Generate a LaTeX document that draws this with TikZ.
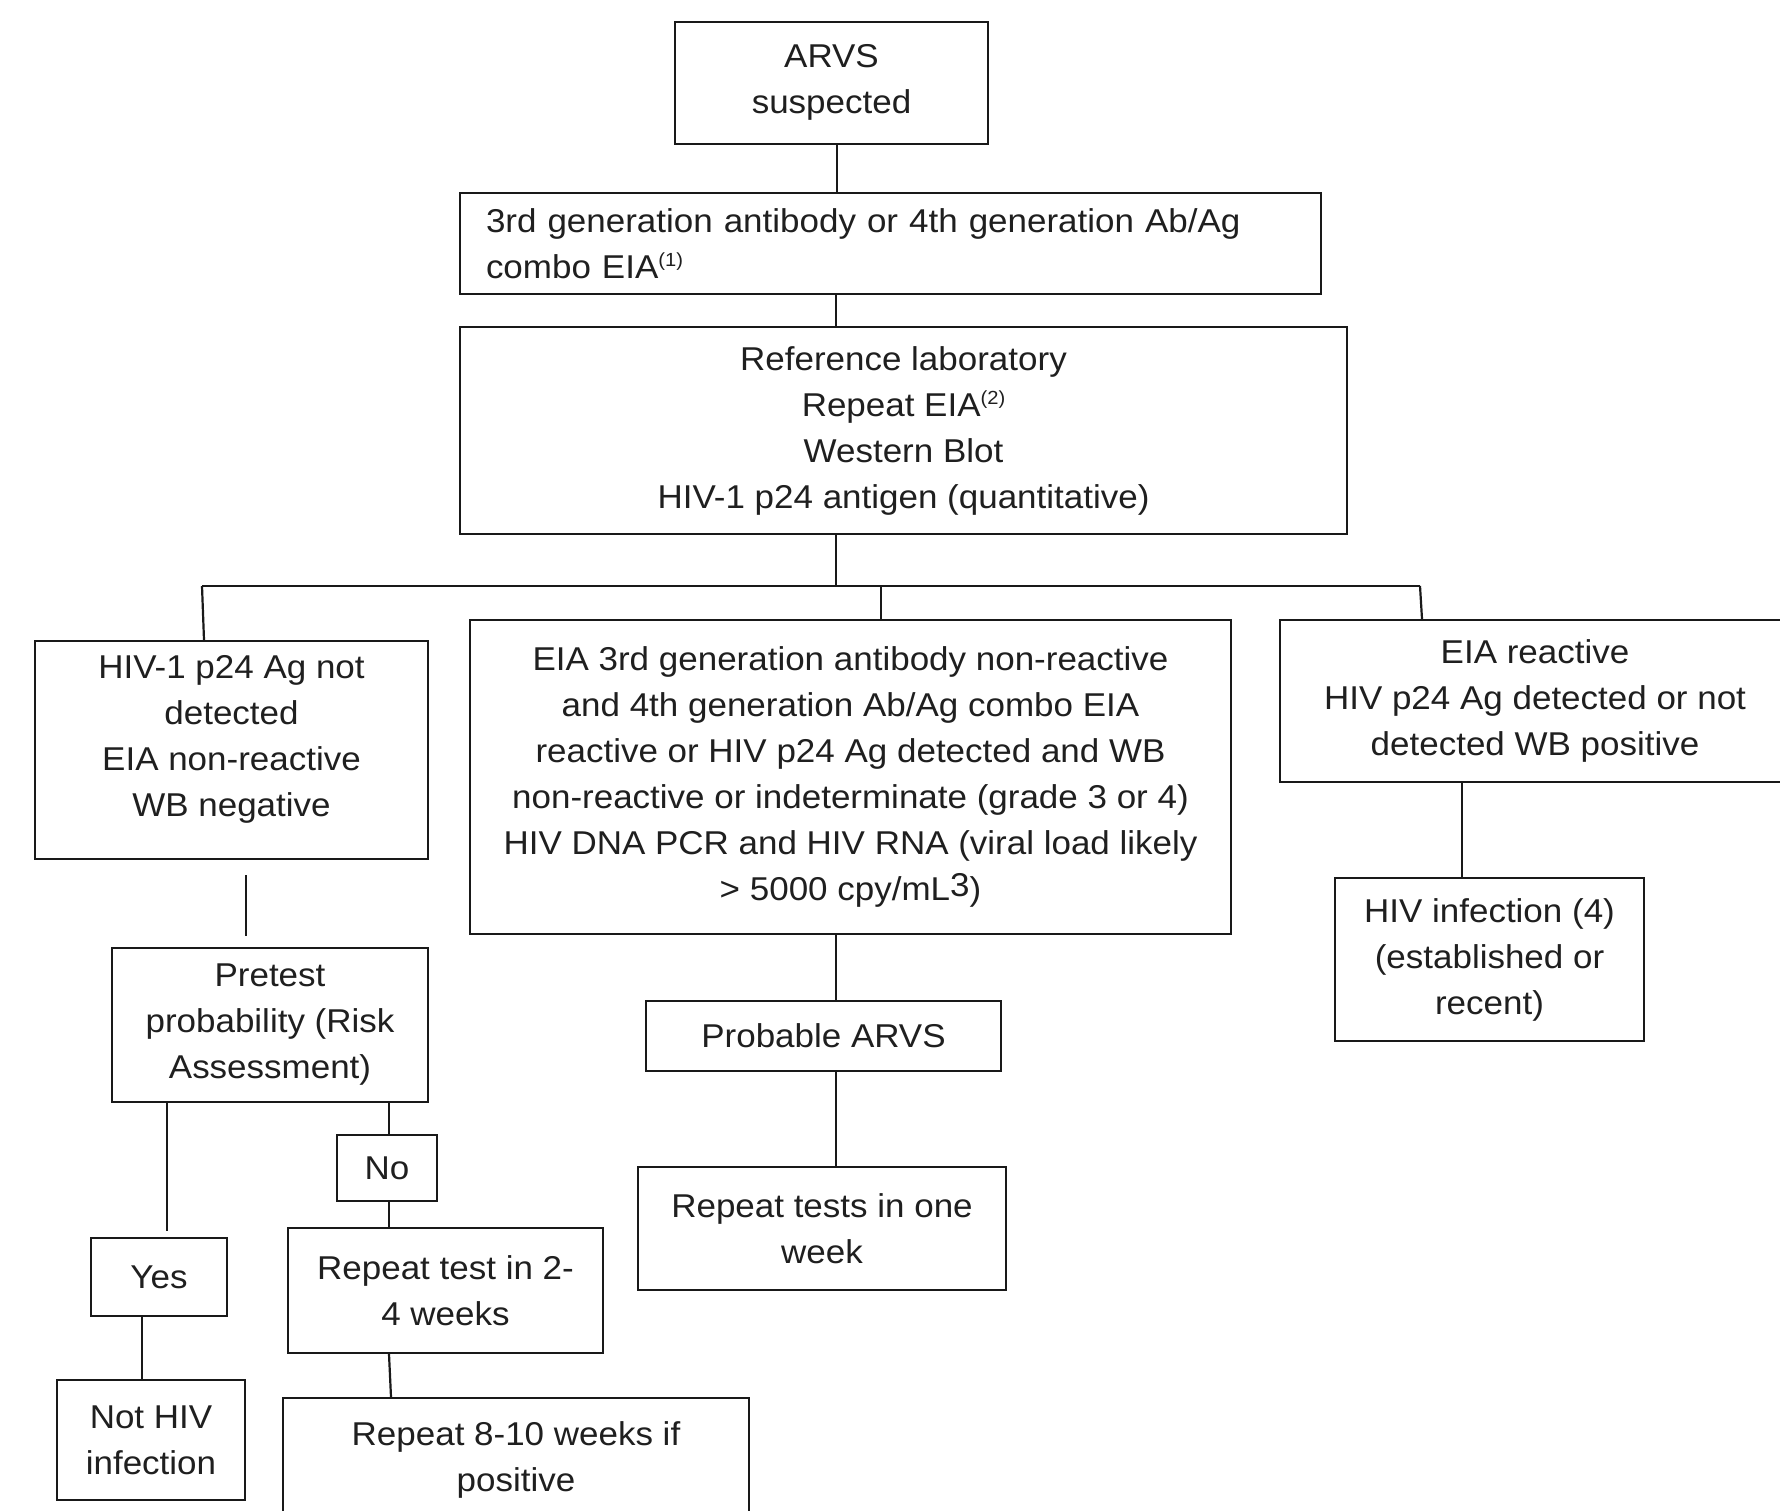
\documentclass[tikz,border=0pt]{standalone}
\usepackage{fontspec}
\setmainfont{Liberation Sans}[FakeStretch=1.06]
\newcommand{\supn}[1]{\raisebox{12pt}{\fontsize{19}{19}\selectfont #1}}
\begin{document}
\begin{tikzpicture}[x=1pt,y=-1pt,
  box/.style={draw=black!90, line width=2.2pt, align=center, inner sep=3pt,
    font=\fontsize{33}{46}\selectfont, text=black!88},
  conn/.style={draw=black!90, line width=2.2pt}]
\useasboundingbox (0,0) rectangle (1780,1510);
% boxes
\node[box, minimum width=313, minimum height=122] (arvs) at (831.5,83) {ARVS\\suspected\\[-38pt]\mbox{}};
\node[box, align=left, text width=809, inner xsep=26, minimum height=101] (gen) at (890.5,243.5)
  {3rd generation antibody or 4th generation Ab/Ag\\combo EIA\supn{(1)}};
\node[box, minimum width=887, minimum height=207] (ref) at (903.5,430.5)
  {Reference laboratory\\Repeat EIA\supn{(2)}\\Western Blot\\HIV-1 p24 antigen (quantitative)};
\node[box, minimum width=393, minimum height=218] (lb) at (231.5,750)
  {HIV-1 p24 Ag not\\detected\\EIA non-reactive\\WB negative\\[-18pt]\mbox{}};
\node[box, minimum width=761, minimum height=314] (mb) at (850.5,777)
  {EIA 3rd generation antibody non-reactive\\and 4th generation Ab/Ag combo EIA\\reactive or HIV p24 Ag detected and WB\\non-reactive or indeterminate (grade 3 or 4)\\HIV DNA PCR and HIV RNA (viral load likely\\{>} 5000 cpy/mL\raisebox{4pt}{3})};
\node[box, minimum width=510, minimum height=162] (rb) at (1535,701)
  {EIA reactive\\HIV p24 Ag detected or not\\detected WB positive};
\node[box, minimum width=309, minimum height=163] (hiv) at (1489.5,959.5)
  {HIV infection (4)\\(established or\\recent)};
\node[box, minimum width=316, minimum height=154] (pre) at (270,1025)
  {Pretest\\probability (Risk\\Assessment)};
\node[box, minimum width=136, minimum height=78] (yes) at (159,1277) {Yes};
\node[box, minimum width=188, minimum height=120] (nothiv) at (151,1440) {Not HIV\\infection};
\node[box, minimum width=100, minimum height=66] (no) at (387,1168) {No};
\node[box, minimum width=315, minimum height=125] (rt) at (445.5,1290.5) {Repeat test in 2-\\4 weeks};
\node[box, minimum width=466, minimum height=124] (r8) at (516,1460) {Repeat 8-10 weeks if\\positive};
\node[box, minimum width=355, minimum height=70] (prob) at (823.5,1036) {Probable ARVS};
\node[box, minimum width=368, minimum height=123] (rtw) at (822,1228.5) {Repeat tests in one\\week};
% bus coordinates
\coordinate (busL) at (202,586);
\coordinate (busM) at (881,586);
\coordinate (busR) at (1420,586);
\coordinate (busC) at (836,586);
% connectors
\draw[conn] (837,0 |- arvs.south) -- (837,0 |- gen.north);
\draw[conn] (836,0 |- gen.south) -- (836,0 |- ref.north);
\draw[conn] (836,0 |- ref.south) -- (busC);
\draw[conn] (busL) -- (busR);
\draw[conn] (busL) -- (204,0 |- lb.north);
\draw[conn] (busM) -- (881,0 |- mb.north);
\draw[conn] (busR) -- (1422,0 |- rb.north);
\draw[conn, shorten <=15pt, shorten >=11pt] (246,0 |- lb.south) -- (246,0 |- pre.north);
\draw[conn, shorten >=6pt] (167,0 |- pre.south) -- (167,0 |- yes.north);
\draw[conn] (142,0 |- yes.south) -- (142,0 |- nothiv.north);
\draw[conn] (389,0 |- pre.south) -- (389,0 |- no.north);
\draw[conn] (389,0 |- no.south) -- (389,0 |- rt.north);
\draw[conn] (389,0 |- rt.south) -- (391,0 |- r8.north);
\draw[conn] (836,0 |- mb.south) -- (836,0 |- prob.north);
\draw[conn] (836,0 |- prob.south) -- (836,0 |- rtw.north);
\draw[conn] (1462,0 |- rb.south) -- (1462,0 |- hiv.north);
\end{tikzpicture}
\end{document}
